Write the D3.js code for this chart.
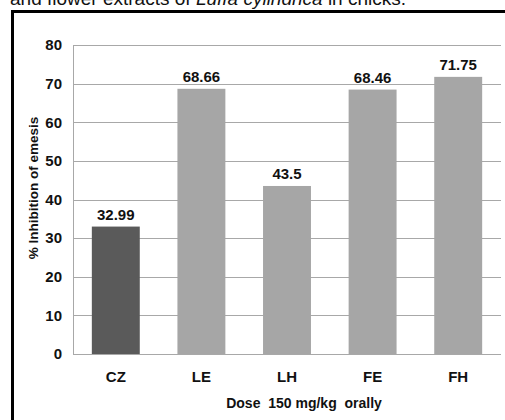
<!DOCTYPE html>
<html>
<head>
<meta charset="utf-8">
<script src="https://cdn.jsdelivr.net/npm/d3@7"></script>
<style>
  body { margin: 0; background: #fff; }
  text { font-family: "Liberation Sans Narrow", "Arial Narrow", "Liberation Sans", Arial, sans-serif; }
  .bold { font-weight: bold; fill: #111; }
</style>
</head>
<body>
<div id="chart"></div>
<script>
var categories = ["CZ", "LE", "LH", "FE", "FH"];
var values = [32.99, 68.66, 43.5, 68.46, 71.75];
var valueLabels = ["32.99", "68.66", "43.5", "68.46", "71.75"];
var yTicks = [0, 10, 20, 30, 40, 50, 60, 70, 80];

var fullWidth = 505, fullHeight = 420;
var margin = {top: 45, right: 4, bottom: 66, left: 73},
    width = fullWidth - margin.left - margin.right,
    height = fullHeight - margin.top - margin.bottom;

var svg = d3.select("#chart").append("svg")
  .attr("width", fullWidth)
  .attr("height", fullHeight);

// caption, cut off at the top as in the source figure
var cap = svg.append("text")
  .attr("x", 10)
  .attr("y", 5)
  .style("font-family", "'Liberation Sans', Arial, sans-serif")
  .style("font-size", "19px")
  .style("fill", "#111");
cap.append("tspan").text("and flower extracts of ");
cap.append("tspan").style("font-style", "italic").text("Luffa cylindrica");
cap.append("tspan").text(" in chicks.");

// outer frame
svg.append("rect")
  .attr("x", 12.5)
  .attr("y", 11.5)
  .attr("width", 500)
  .attr("height", 420)
  .attr("fill", "none")
  .attr("stroke", "#000")
  .attr("stroke-width", 3);

var g = svg.append("g")
  .attr("transform", "translate(" + margin.left + "," + margin.top + ")");

var xScale = d3.scaleBand()
  .domain(categories)
  .range([0, width])
  .paddingInner(0.44)
  .paddingOuter(0.22);

var yScale = d3.scaleLinear()
  .domain([0, 80])
  .range([height, 0]);

// gridlines
g.selectAll(".grid")
  .data(yTicks)
  .enter().append("line")
  .attr("x1", 0)
  .attr("x2", width)
  .attr("y1", function(d) { return Math.round(yScale(d)) + 0.5; })
  .attr("y2", function(d) { return Math.round(yScale(d)) + 0.5; })
  .attr("stroke", "#a8a8a8")
  .attr("stroke-width", 1);

// y axis
var yAxis = g.append("g")
  .call(d3.axisLeft(yScale).tickValues(yTicks).tickSize(0).tickPadding(11));
yAxis.select(".domain").attr("stroke", "#a8a8a8");
yAxis.selectAll("text")
  .attr("class", "bold")
  .style("font-size", "15px");

// bars
g.selectAll(".bar")
  .data(values)
  .enter().append("rect")
  .attr("x", function(d, i) { return xScale(categories[i]); })
  .attr("width", xScale.bandwidth())
  .attr("y", function(d) { return yScale(d); })
  .attr("height", function(d) { return height - yScale(d); })
  .attr("fill", function(d, i) { return i === 0 ? "#5a5a5a" : "#a6a6a6"; });

// value labels
g.selectAll(".vlabel")
  .data(values)
  .enter().append("text")
  .attr("class", "bold")
  .attr("x", function(d, i) { return xScale(categories[i]) + xScale.bandwidth() / 2; })
  .attr("y", function(d) { return yScale(d) - 7; })
  .attr("text-anchor", "middle")
  .style("font-size", "15px")
  .text(function(d, i) { return valueLabels[i]; });

// x axis
var xAxis = g.append("g")
  .attr("transform", "translate(0," + height + ")")
  .call(d3.axisBottom(xScale).tickSize(0).tickPadding(17));
xAxis.select(".domain").remove();
xAxis.selectAll("text")
  .attr("class", "bold")
  .style("font-size", "15px");

// axis titles
g.append("text")
  .attr("class", "bold")
  .attr("x", 231)
  .attr("y", height + 54)
  .attr("text-anchor", "middle")
  .style("font-size", "14px")
  .style("white-space", "pre")
  .text("Dose  150 mg/kg  orally");

g.append("text")
  .attr("class", "bold")
  .attr("transform", "translate(-35,143) rotate(-90)")
  .attr("text-anchor", "middle")
  .style("font-family", "'Liberation Sans', Arial, sans-serif")
  .style("font-size", "13.5px")
  .text("% Inhibition of emesis");
</script>
</body>
</html>
